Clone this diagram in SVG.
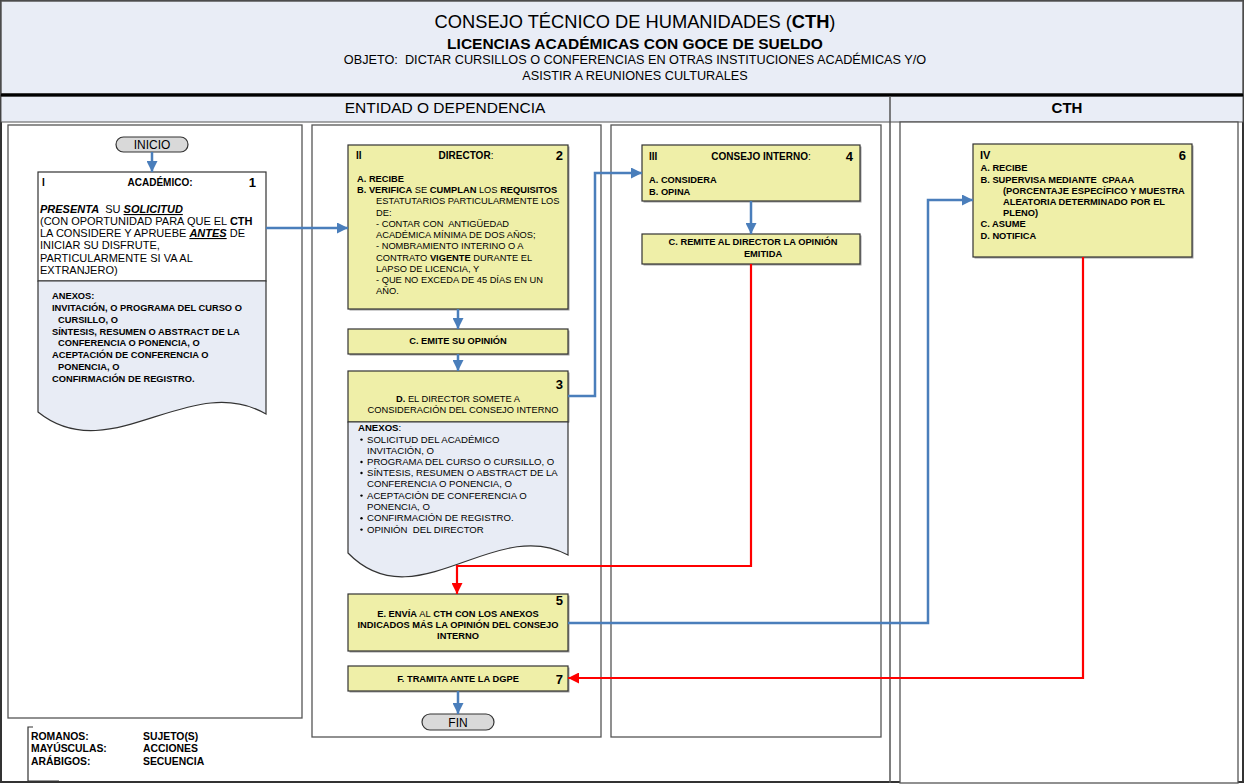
<svg xmlns="http://www.w3.org/2000/svg" width="1245" height="784" viewBox="0 0 1245 784">
<style>
text{font-family:"Liberation Sans",Arial,Helvetica,sans-serif;fill:#000}
.b{font-weight:bold}
.bi{font-weight:bold;font-style:italic}
.n{font-size:9.3px}
.nb{font-size:9.3px;font-weight:bold}
.a{font-size:9.6px}
.num{font-size:13px;font-weight:bold}
.hd{font-size:10px;font-weight:bold}
.yel{fill:#EFEFA8;stroke:#333;stroke-width:1.2}
.ann{fill:#E8ECF5;stroke:#333;stroke-width:1.2}
.sh{fill:#a0a0a0}
.lane{fill:#fff;stroke:#555;stroke-width:1.3}
.pill{fill:#D9D9D9;stroke:#333;stroke-width:1.2}
.blue{stroke:#4A7EBB;stroke-width:2.5;fill:none;marker-end:url(#ab)}
.red{stroke:#FF0000;stroke-width:2.2;fill:none;marker-end:url(#ar)}
.mid{text-anchor:middle}
.end{text-anchor:end}
</style>
<defs>
<marker id="ab" markerUnits="userSpaceOnUse" markerWidth="11" markerHeight="11" viewBox="0 0 10 10" refX="10" refY="5" orient="auto"><path d="M0,0 L10,5 L0,10 z" fill="#4A7EBB"/></marker>
<marker id="ar" markerUnits="userSpaceOnUse" markerWidth="11" markerHeight="11" viewBox="0 0 10 10" refX="10" refY="5" orient="auto"><path d="M0,0 L10,5 L0,10 z" fill="#FF0000"/></marker>
</defs>

<g id="frame">
<rect x="1" y="1" width="1242" height="781" fill="#fff" stroke="#333" stroke-width="2"/>
<rect x="1" y="1" width="1242" height="93" fill="#E9EDF6" stroke="#555" stroke-width="1.5"/>
<rect x="1" y="96" width="1242" height="26" fill="#E9EDF6" stroke="#555" stroke-width="1"/>
<line x1="1" y1="95" x2="1243" y2="95" stroke="#000" stroke-width="3"/>
<line x1="890" y1="96" x2="890" y2="783" stroke="#555" stroke-width="1.5"/>
<rect x="900" y="122" width="338" height="661" class="lane"/>
<rect x="8" y="125" width="294" height="593" class="lane"/>
<rect x="312" y="125" width="289" height="612" class="lane"/>
<rect x="611" y="125" width="270" height="612" class="lane"/>
<text x="635" y="28" class="mid" style="font-size:18.3px">CONSEJO TÉCNICO DE HUMANIDADES (<tspan class="b">CTH</tspan>)</text>
<text x="635" y="49" class="mid b" style="font-size:15.5px">LICENCIAS ACADÉMICAS CON GOCE DE SUELDO</text>
<text x="635" y="64" class="mid" style="font-size:12.7px" xml:space="preserve">OBJETO:  DICTAR CURSILLOS O CONFERENCIAS EN OTRAS INSTITUCIONES ACADÉMICAS Y/O</text>
<text x="635" y="80" class="mid" style="font-size:12.7px">ASISTIR A REUNIONES CULTURALES</text>
<text x="445" y="113" class="mid" style="font-size:15.5px">ENTIDAD O DEPENDENCIA</text>
<text x="1067" y="113" class="mid b" style="font-size:15px">CTH</text>
</g>

<g id="inicio">
<rect x="116" y="137" width="72" height="15" rx="7.5" class="pill"/>
<text x="152" y="149" class="mid" style="font-size:12px">INICIO</text>
</g>

<g id="node1">
<rect x="38" y="172" width="228" height="109" fill="#fff" stroke="#333" stroke-width="1.2"/>
<text x="42" y="186" class="hd">I</text>
<text x="160" y="186" class="mid hd">ACADÉMICO:</text>
<text x="256" y="187" class="end num">1</text>
<text x="40" y="213" style="font-size:11px" xml:space="preserve"><tspan class="bi">PRESENTA</tspan>  SU <tspan class="bi" text-decoration="underline">SOLICITUD</tspan></text>
<text x="40" y="225" style="font-size:11px">(CON OPORTUNIDAD PARA QUE EL <tspan class="b">CTH</tspan></text>
<text x="40" y="237" style="font-size:11px" xml:space="preserve">LA CONSIDERE Y APRUEBE <tspan class="bi" text-decoration="underline">ANTES</tspan> DE</text>
<text x="40" y="249" style="font-size:11px">INICIAR SU DISFRUTE,</text>
<text x="40" y="262" style="font-size:11px">PARTICULARMENTE SI VA AL</text>
<text x="40" y="274" style="font-size:11px">EXTRANJERO)</text>
</g>

<g id="anexos1">
<path d="M38,281 H266 V414 C190,370 110,470 38,412 Z" class="ann"/>
<text x="52" y="299" class="nb">ANEXOS:</text>
<text x="52" y="311" class="nb">INVITACIÓN, O PROGRAMA DEL CURSO O</text>
<text x="58" y="323" class="nb">CURSILLO, O</text>
<text x="52" y="334.5" class="nb">SÍNTESIS, RESUMEN O ABSTRACT DE LA</text>
<text x="58" y="346" class="nb">CONFERENCIA O PONENCIA, O</text>
<text x="52" y="358" class="nb">ACEPTACIÓN DE CONFERENCIA O</text>
<text x="58" y="370" class="nb">PONENCIA, O</text>
<text x="52" y="382" class="nb">CONFIRMACIÓN DE REGISTRO.</text>
</g>

<g id="node2">
<rect x="349.5" y="146.5" width="220" height="164" class="sh"/>
<rect x="348" y="145" width="220" height="164" class="yel"/>
<text x="356" y="159" class="hd">II</text>
<text x="466" y="159" class="mid hd">DIRECTOR<tspan style="font-weight:normal">:</tspan></text>
<text x="563" y="160" class="end num">2</text>
<text x="357" y="181.6" class="nb">A. RECIBE</text>
<text x="357" y="192.6" class="n"><tspan class="b">B. VERIFICA</tspan> SE <tspan class="b">CUMPLAN</tspan> LOS <tspan class="b">REQUISITOS</tspan></text>
<text x="376" y="204.3" class="n">ESTATUTARIOS PARTICULARMENTE LOS</text>
<text x="376" y="216" class="n">DE:</text>
<text x="376" y="226.6" class="n" xml:space="preserve">- CONTAR CON  ANTIGÜEDAD</text>
<text x="376" y="237.6" class="n">ACADÉMICA MÍNIMA DE DOS AÑOS;</text>
<text x="376" y="249.3" class="n">- NOMBRAMIENTO INTERINO O A</text>
<text x="376" y="260.6" class="n">CONTRATO <tspan class="b">VIGENTE</tspan> DURANTE EL</text>
<text x="376" y="271.6" class="n">LAPSO DE LICENCIA, Y</text>
<text x="376" y="282.6" class="n">- QUE NO EXCEDA DE 45 DÍAS EN UN</text>
<text x="376" y="294" class="n">AÑO.</text>
</g>

<g id="nodeC">
<rect x="349.5" y="330.5" width="220" height="25" class="sh"/>
<rect x="348" y="329" width="220" height="25" class="yel"/>
<text x="458" y="344" class="mid nb">C. EMITE SU OPINIÓN</text>
</g>

<g id="node3">
<rect x="349.5" y="372.5" width="220" height="50" class="sh"/>
<rect x="348" y="371" width="220" height="51" class="yel"/>
<text x="563" y="389" class="end num">3</text>
<text x="458" y="402" class="mid n"><tspan class="b">D.</tspan> EL DIRECTOR SOMETE A</text>
<text x="463" y="413" class="mid n">CONSIDERACIÓN DEL CONSEJO INTERNO</text>
</g>

<g id="anexos3">
<path d="M348,422 H568 V555 C495,515 415,622 348,553 Z" class="ann"/>
<text x="358" y="430.5" class="a"><tspan class="b">ANEXOS</tspan>:</text>
<text x="367" y="442.6" class="a">SOLICITUD DEL ACADÉMICO</text>
<text x="367" y="454" class="a">INVITACIÓN, O</text>
<text x="367" y="465" class="a">PROGRAMA DEL CURSO O CURSILLO, O</text>
<text x="367" y="476" class="a">SÍNTESIS, RESUMEN O ABSTRACT DE LA</text>
<text x="367" y="487.3" class="a">CONFERENCIA O PONENCIA, O</text>
<text x="367" y="498.6" class="a">ACEPTACIÓN DE CONFERENCIA O</text>
<text x="367" y="510" class="a">PONENCIA, O</text>
<text x="367" y="521.3" class="a">CONFIRMACIÓN DE REGISTRO.</text>
<text x="367" y="532.6" class="a" xml:space="preserve">OPINIÓN  DEL DIRECTOR</text>
<g fill="#000">
<circle cx="361.5" cy="439.6" r="1.2"/>
<circle cx="361.5" cy="462" r="1.2"/>
<circle cx="361.5" cy="473" r="1.2"/>
<circle cx="361.5" cy="495.6" r="1.2"/>
<circle cx="361.5" cy="518.3" r="1.2"/>
<circle cx="361.5" cy="529.6" r="1.2"/>
</g>
</g>

<g id="node4">
<rect x="643.5" y="146.5" width="218" height="56" class="sh"/>
<rect x="642" y="145" width="218" height="56" class="yel"/>
<text x="649" y="159.5" class="hd">III</text>
<text x="761" y="159.5" class="mid hd">CONSEJO INTERNO<tspan style="font-weight:normal">:</tspan></text>
<text x="853" y="160.5" class="end num">4</text>
<text x="649" y="183.3" class="nb">A. CONSIDERA</text>
<text x="649" y="195" class="nb">B. OPINA</text>
</g>

<g id="node4C">
<rect x="643.5" y="235.5" width="218" height="30" class="sh"/>
<rect x="642" y="234" width="218" height="30" class="yel"/>
<text x="753" y="245" class="mid nb">C. REMITE AL DIRECTOR LA OPINIÓN</text>
<text x="763" y="256.7" class="mid nb">EMITIDA</text>
</g>

<g id="node5">
<rect x="349.5" y="595.5" width="220" height="57" class="sh"/>
<rect x="348" y="594" width="220" height="57" class="yel"/>
<text x="563" y="605" class="end num">5</text>
<text x="458" y="616.6" class="mid nb">E. ENVÍA <tspan style="font-weight:normal">AL</tspan> CTH CON LOS ANEXOS</text>
<text x="458" y="628.3" class="mid nb">INDICADOS MÁS LA OPINIÓN DEL CONSEJO</text>
<text x="458" y="639.3" class="mid nb">INTERNO</text>
</g>

<g id="node6">
<rect x="974.5" y="145.5" width="219" height="113" class="sh"/>
<rect x="973" y="144" width="219" height="113" class="yel"/>
<text x="980" y="159" class="hd" style="font-size:11px">IV</text>
<text x="1186" y="160" class="end num">6</text>
<text x="980.5" y="171" class="nb">A. RECIBE</text>
<text x="980.5" y="183.3" class="nb" xml:space="preserve">B. SUPERVISA MEDIANTE  CPAAA</text>
<text x="1003" y="194.3" class="nb">(PORCENTAJE ESPECÍFICO Y MUESTRA</text>
<text x="1003" y="205.3" class="nb">ALEATORIA DETERMINADO POR EL</text>
<text x="1003" y="216" class="nb">PLENO)</text>
<text x="980.5" y="227.3" class="nb">C. ASUME</text>
<text x="980.5" y="239" class="nb">D. NOTIFICA</text>
</g>

<g id="node7">
<rect x="349.5" y="667.5" width="220" height="25" class="sh"/>
<rect x="348" y="666" width="220" height="25" class="yel"/>
<text x="458" y="682.3" class="mid nb">F. TRAMITA ANTE LA DGPE</text>
<text x="563" y="684" class="end num">7</text>
</g>

<g id="fin">
<rect x="422" y="714" width="72" height="16" rx="8" class="pill"/>
<text x="458" y="727" class="mid" style="font-size:12px">FIN</text>
</g>

<g id="connectors">
<line x1="152" y1="152" x2="152" y2="172" class="blue"/>
<polyline points="266,228 300,228 348,228" class="blue"/>
<line x1="458" y1="309" x2="458" y2="329" class="blue"/>
<line x1="458" y1="354" x2="458" y2="371" class="blue"/>
<polyline points="568,396 595,396 595,173 642,173" class="blue"/>
<line x1="751" y1="201" x2="751" y2="234" class="blue"/>
<polyline points="751,264 751,566 457,566 457,594" class="red"/>
<polyline points="568,623 928,623 928,200 973,200" class="blue"/>
<polyline points="1083,257 1083,678 568,678" class="red"/>
<line x1="458" y1="691" x2="458" y2="714" class="blue"/>
</g>

<g id="legend">
<polyline points="33,727 28,727 28,781 59,781" fill="none" stroke="#333" stroke-width="1.2"/>
<text x="31" y="740" class="b" style="font-size:10.4px">ROMANOS:</text>
<text x="31" y="752" class="b" style="font-size:10.4px">MAYÚSCULAS:</text>
<text x="31" y="765" class="b" style="font-size:10.4px">ARÁBIGOS:</text>
<text x="143" y="740" class="b" style="font-size:10.4px">SUJETO(S)</text>
<text x="143" y="752" class="b" style="font-size:10.4px">ACCIONES</text>
<text x="143" y="765" class="b" style="font-size:10.4px">SECUENCIA</text>
</g>
</svg>
